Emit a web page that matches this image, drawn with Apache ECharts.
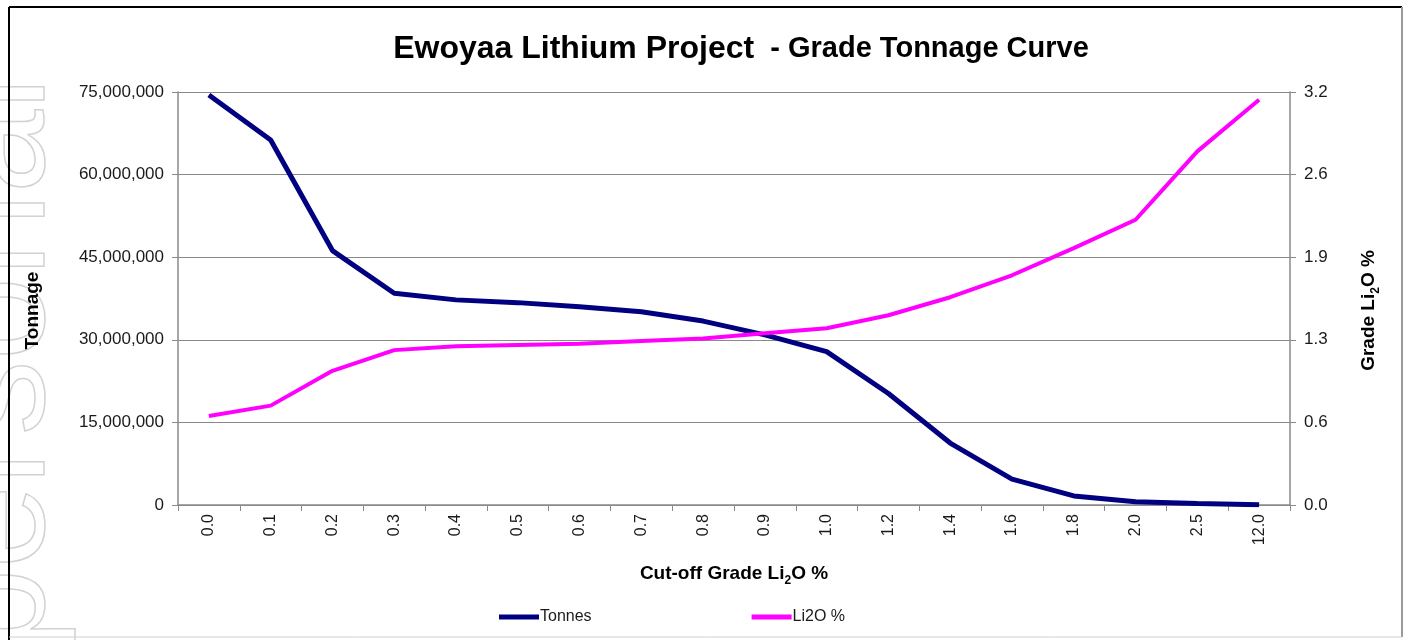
<!DOCTYPE html>
<html>
<head>
<meta charset="utf-8">
<title>Ewoyaa Lithium Project - Grade Tonnage Curve</title>
<script src="https://cdn.jsdelivr.net/npm/echarts@6/dist/echarts.min.js"></script>
<style>
  html, body { margin: 0; padding: 0; background: #fff; }
  #chart { width: 1405px; height: 640px; }
</style>
</head>
<body>
<div id="chart"></div>
<script>
// cut-off grades (category axis)
const cutoffs = ['0.0', '0.1', '0.2', '0.3', '0.4', '0.5', '0.6', '0.7', '0.8', '0.9',
    '1.0', '1.2', '1.4', '1.6', '1.8', '2.0', '2.5', '12.0'];
// tonnes above cut-off
const tonnes = [74450000, 66300000, 46200000, 38450000, 37250000, 36750000, 36000000, 35100000,
    33400000, 30900000, 27850000, 20250000, 11250000, 4700000, 1650000, 600000, 250000, 50000];
// average grade Li2O %
const li2o = [0.69, 0.77, 1.04, 1.20, 1.23, 1.24, 1.25, 1.27, 1.29, 1.33,
    1.37, 1.47, 1.61, 1.78, 1.99, 2.21, 2.74, 3.14];

const seriesNames = ['Tonnes', 'Li2O %'];
const tonnageTicks = {min: 0, max: 75000000, interval: 15000000};
const gradeTicks = {min: 0, max: 3.2, interval: 0.64};

const FONT = '"Liberation Sans", Arial, sans-serif';
const TEXT = '#1a1a1a';
const GRID = '#8a8a8a';

// sub-script helper for Li2O in the axis names
const nameRich = {
    n: {fontFamily: FONT, fontWeight: 'bold', fontSize: 19, color: '#000', lineHeight: 26},
    s: {fontFamily: FONT, fontWeight: 'bold', fontSize: 12, color: '#000', lineHeight: 12, verticalAlign: 'bottom'}
};

const myChart = echarts.init(document.getElementById('chart'));

const option = {
    backgroundColor: '#fff',
    animation: false,
    title: {
        text: '{a|Ewoyaa Lithium Project}{b|  - Grade Tonnage Curve}',
        left: 736,
        top: 25,
        textAlign: 'center',
        textStyle: {
            rich: {
                a: {fontFamily: FONT, fontWeight: 'bold', fontSize: 32, color: '#000', lineHeight: 38},
                b: {fontFamily: FONT, fontWeight: 'bold', fontSize: 29, color: '#000', lineHeight: 38}
            }
        }
    },
    legend: {
        data: seriesNames,
        left: 494,
        top: 604,
        icon: 'rect',
        itemWidth: 40,
        itemHeight: 5,
        itemGap: 160,
        textStyle: {fontFamily: FONT, fontSize: 16, color: TEXT, padding: [0, 0, 0, -4]}
    },
    grid: {left: 178, right: 115, top: 92, bottom: 135, containLabel: false},
    xAxis: {
        type: 'category',
        data: cutoffs,
        boundaryGap: true,
        name: '{n|Cut-off Grade Li}{s|2}{n|O %}',
        nameLocation: 'middle',
        nameGap: 56,
        nameTextStyle: {rich: nameRich},
        axisLine: {lineStyle: {color: GRID, width: 1.5}},
        axisTick: {show: true, length: 6, lineStyle: {color: GRID}},
        axisLabel: {
            rotate: 90,
            margin: 9,
            fontFamily: FONT,
            fontSize: 16,
            color: TEXT
        },
        splitLine: {show: false}
    },
    yAxis: [
        {
            type: 'value',
            position: 'left',
            min: tonnageTicks.min,
            max: tonnageTicks.max,
            interval: tonnageTicks.interval,
            name: '{n|Tonnage}',
            nameLocation: 'middle',
            nameRotate: 90,
            nameGap: 132,
            nameTextStyle: {rich: nameRich, padding: [0, 24, 0, 0]},
            axisLine: {show: true, lineStyle: {color: GRID, width: 1.5}},
            axisTick: {show: true, length: 6, lineStyle: {color: GRID}},
            axisLabel: {
                margin: 14,
                fontFamily: FONT,
                fontSize: 17,
                color: TEXT,
                formatter: v => v.toLocaleString('en-US')
            },
            splitLine: {show: true, lineStyle: {color: GRID, width: 1}}
        },
        {
            type: 'value',
            position: 'right',
            min: gradeTicks.min,
            max: gradeTicks.max,
            interval: gradeTicks.interval,
            name: '{n|Grade Li}{s|2}{n|O %}',
            nameLocation: 'middle',
            nameRotate: 90,
            nameGap: 66,
            nameTextStyle: {rich: nameRich, padding: [0, 24, 0, 0]},
            axisLine: {show: true, lineStyle: {color: GRID, width: 1.5}},
            axisTick: {show: true, length: 6, lineStyle: {color: GRID}},
            axisLabel: {
                margin: 14,
                fontFamily: FONT,
                fontSize: 17,
                color: TEXT,
                formatter: v => v.toFixed(1)
            },
            splitLine: {show: false}
        }
    ],
    series: [
        {
            name: seriesNames[0],
            type: 'line',
            yAxisIndex: 0,
            data: tonnes,
            symbol: 'none',
            lineStyle: {color: '#000080', width: 5},
            itemStyle: {color: '#000080'},
            z: 3
        },
        {
            name: seriesNames[1],
            type: 'line',
            yAxisIndex: 1,
            data: li2o,
            symbol: 'none',
            lineStyle: {color: '#ff00ff', width: 4},
            itemStyle: {color: '#ff00ff'},
            z: 4
        }
    ],
    graphic: [
        // faint outlined watermark cut off at the left edge
        {
            type: 'text',
            x: 78,
            y: 652,
            rotation: Math.PI / 2,
            silent: true,
            z: -10,
            style: {
                text: 'personal',
                font: '150px ' + FONT,
                fill: 'rgba(0,0,0,0)',
                stroke: '#d2d2d2',
                lineWidth: 1.5,
                align: 'left',
                verticalAlign: 'bottom'
            }
        },
        // chart frame
        {type: 'line', shape: {x1: 9, y1: 7, x2: 1402, y2: 7}, style: {stroke: '#000', lineWidth: 2}},
        {type: 'line', shape: {x1: 9, y1: 7, x2: 9, y2: 640}, style: {stroke: '#000', lineWidth: 2}},
        {type: 'line', shape: {x1: 1402, y1: 7, x2: 1402, y2: 637}, style: {stroke: '#9a9a9a', lineWidth: 2}},
        {type: 'line', shape: {x1: 9, y1: 637, x2: 1402, y2: 637}, style: {stroke: '#d0d0d0', lineWidth: 1}}
    ]
};

myChart.setOption(option);
window.addEventListener('resize', function () {
    myChart.resize();
});
</script>
</body>
</html>
